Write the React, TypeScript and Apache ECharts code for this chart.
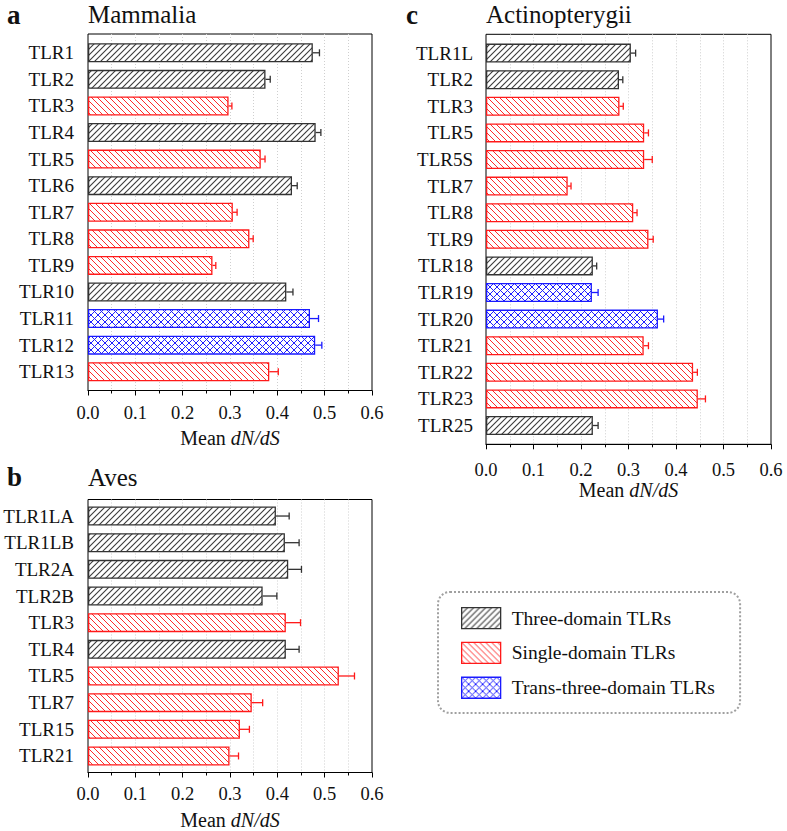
import React, { useEffect, useRef } from 'react';
import * as echarts from 'echarts';

const FONT = 'Liberation Serif';

// Panel a – Mammalia
const catsA = ['TLR1', 'TLR2', 'TLR3', 'TLR4', 'TLR5', 'TLR6', 'TLR7', 'TLR8', 'TLR9', 'TLR10', 'TLR11', 'TLR12', 'TLR13'];
const valsA = [0.475, 0.375, 0.297, 0.481, 0.365, 0.431, 0.306, 0.341, 0.263, 0.419, 0.469, 0.48, 0.383];
const errsA = [0.014, 0.01, 0.007, 0.011, 0.009, 0.011, 0.009, 0.008, 0.007, 0.014, 0.018, 0.014, 0.019];
const typesA = ['T', 'T', 'S', 'T', 'S', 'T', 'S', 'S', 'S', 'T', 'X', 'X', 'S'];

// Panel b – Aves
const catsB = ['TLR1LA', 'TLR1LB', 'TLR2A', 'TLR2B', 'TLR3', 'TLR4', 'TLR5', 'TLR7', 'TLR15', 'TLR21'];
const valsB = [0.397, 0.416, 0.423, 0.369, 0.418, 0.418, 0.53, 0.346, 0.321, 0.299];
const errsB = [0.028, 0.03, 0.028, 0.03, 0.031, 0.028, 0.033, 0.023, 0.02, 0.019];
const typesB = ['T', 'T', 'T', 'T', 'S', 'T', 'S', 'S', 'S', 'S'];

// Panel c – Actinopterygii
const catsC = ['TLR1L', 'TLR2', 'TLR3', 'TLR5', 'TLR5S', 'TLR7', 'TLR8', 'TLR9', 'TLR18', 'TLR19', 'TLR20', 'TLR21', 'TLR22', 'TLR23', 'TLR25'];
const valsC = [0.305, 0.28, 0.281, 0.333, 0.333, 0.172, 0.31, 0.342, 0.225, 0.223, 0.362, 0.332, 0.436, 0.446, 0.225];
const errsC = [0.01, 0.008, 0.008, 0.009, 0.017, 0.007, 0.008, 0.01, 0.008, 0.013, 0.012, 0.01, 0.009, 0.016, 0.011];
const typesC = ['T', 'T', 'S', 'S', 'S', 'S', 'S', 'S', 'T', 'X', 'X', 'S', 'S', 'S', 'T'];

const typeCodes = ['T', 'S', 'X'];
const typeNames = ['Three-domain TLRs', 'Single-domain TLRs', 'Trans-three-domain TLRs'];
const panelTitles = ['Mammalia', 'Aves', 'Actinopterygii'];
const panelLetters = ['a', 'b', 'c'];
const axisTitle = '{n|Mean }{i|dN/dS}';

const strokeColors = ['#333333', '#ff1a1a', '#1a1aff'];

function makePattern(kind: string, color: string, size: number, lw: number) {
  const c = document.createElement('canvas');
  c.width = size;
  c.height = size;
  const ctx = c.getContext('2d')!;
  ctx.fillStyle = '#ffffff';
  ctx.fillRect(0, 0, size, size);
  ctx.strokeStyle = color;
  ctx.lineWidth = lw;
  const seg = (x1: number, y1: number, x2: number, y2: number) => {
    ctx.beginPath();
    ctx.moveTo(x1, y1);
    ctx.lineTo(x2, y2);
    ctx.stroke();
  };
  if (kind === 'fwd' || kind === 'cross') {
    for (const k of [0, 1, 2]) seg(-2, k * size + 2, k * size + 2, -2);
  }
  if (kind === 'back' || kind === 'cross') {
    for (const k of [-1, 0, 1]) seg(k * size - 2, -2, k * size + size + 2, size + 2);
  }
  return { image: c, repeat: 'repeat', imageWidth: size, imageHeight: size } as any;
}

export default function App() {
  const ref = useRef<HTMLDivElement>(null);
  useEffect(() => {
    document.body.style.margin = '0';
    const chart = echarts.init(ref.current!, null, { renderer: 'svg' });
    const patterns = [
      makePattern('fwd', '#3a3a3a', 6, 1.1),
      makePattern('back', '#ff2a2a', 6, 1.0),
      makePattern('cross', '#2020ff', 7, 1.0),
    ];

    const panels = [
      { cats: catsA, vals: valsA, errs: errsA, types: typesA, frame: { left: 88, top: 34, width: 284, height: 356.5 }, inset: 5.5, labelMargin: 13, nameGap: 37, catMargin: 14 },
      { cats: catsB, vals: valsB, errs: errsB, types: typesB, frame: { left: 88, top: 499.5, width: 284, height: 273 }, inset: 3.2, labelMargin: 12, nameGap: 37, catMargin: 14 },
      { cats: catsC, vals: valsC, errs: errsC, types: typesC, frame: { left: 486, top: 34.3, width: 285, height: 410 }, inset: 5.5, labelMargin: 16, nameGap: 33.5, catMargin: 13 },
    ];

    const grid: any[] = [];
    const xAxis: any[] = [];
    const yAxis: any[] = [];
    const series: any[] = [];
    const dotted = { color: '#cfcfcf', width: 1, type: [1, 2] };
    const txt = (size: number, extra: any = {}) => ({ fontFamily: FONT, fontSize: size, color: '#111', fontWeight: 'normal', ...extra });

    panels.forEach((p, i) => {
      const fi = 2 * i;
      const bi = 2 * i + 1;
      grid.push({ left: p.frame.left, top: p.frame.top, width: p.frame.width, height: p.frame.height, show: true, borderColor: '#000', borderWidth: 1, backgroundColor: 'transparent', containLabel: false, outerBoundsMode: 'none' });
      grid.push({ left: p.frame.left, top: p.frame.top + p.inset, width: p.frame.width, height: p.frame.height - 2 * p.inset, containLabel: false, outerBoundsMode: 'none' });
      xAxis.push({
        gridIndex: fi, type: 'value', min: 0, max: 0.6, interval: 0.1,
        axisLine: { show: true, onZero: false, lineStyle: { color: '#000', width: 1 } },
        axisTick: { show: true, inside: false, length: 5, lineStyle: { color: '#000', width: 1 } },
        minorTick: { show: true, splitNumber: 2, length: 3, lineStyle: { color: '#000', width: 1 } },
        splitLine: { show: true, showMinLine: false, showMaxLine: false, lineStyle: dotted },
        minorSplitLine: { show: true, lineStyle: dotted },
        axisLabel: { margin: p.labelMargin, ...txt(18.5), formatter: (v: number) => v.toFixed(1) },
        name: axisTitle, nameLocation: 'middle', nameGap: p.nameGap,
        nameTextStyle: {
          ...txt(20),
          rich: { n: txt(20), i: txt(20, { fontStyle: 'italic' }) },
        },
      });
      xAxis.push({ gridIndex: bi, type: 'value', min: 0, max: 0.6, show: false });
      yAxis.push({ gridIndex: fi, type: 'value', min: 0, max: 1, show: false });
      yAxis.push({
        gridIndex: bi, type: 'category', data: p.cats, inverse: true,
        axisLine: { show: false }, axisTick: { show: false }, splitLine: { show: false },
        axisLabel: { margin: p.catMargin, ...txt(19) },
      });
      typeCodes.forEach((code, t) => {
        series.push({
          type: 'bar', name: typeNames[t], xAxisIndex: bi, yAxisIndex: bi,
          barWidth: 19, barGap: '-100%',
          data: p.vals.map((v, j) => (p.types[j] === code ? v : '-')),
          itemStyle: { color: patterns[t], borderColor: strokeColors[t], borderWidth: 1.3 },
          emphasis: { disabled: true },
          z: 2,
        });
      });
      series.push({
        type: 'custom', xAxisIndex: bi, yAxisIndex: bi, silent: true, z: 5,
        encode: { x: 0, y: 1 },
        data: p.vals.map((v, j) => [v, j, p.errs[j], typeCodes.indexOf(p.types[j])]),
        renderItem: (params: any, api: any) => {
          const v = api.value(0);
          const j = api.value(1);
          const e = api.value(2);
          const t = api.value(3);
          const p0 = api.coord([v, j]);
          const p1 = api.coord([v + e, j]);
          const style = { stroke: strokeColors[t], lineWidth: 1.3 };
          return {
            type: 'group',
            children: [
              { type: 'line', shape: { x1: p0[0], y1: p0[1], x2: p1[0], y2: p1[1] }, style },
              { type: 'line', shape: { x1: p1[0], y1: p1[1] - 3.5, x2: p1[0], y2: p1[1] + 3.5 }, style },
            ],
          };
        },
      });
    });

    const titleText = (text: string, x: number, y: number, size: number, bold: boolean) => ({
      type: 'text', x, y, silent: true,
      style: { text, fontFamily: FONT, fontSize: size, fontWeight: bold ? 'bold' : 'normal', fill: '#111', verticalAlign: 'middle', align: 'left' },
    });

    chart.setOption({
      animation: false,
      backgroundColor: '#fff',
      textStyle: { fontFamily: FONT, color: '#111' },
      grid, xAxis, yAxis, series,
      legend: {
        show: true, orient: 'vertical', left: 438, top: 592,
        padding: [15, 25, 14, 23], itemWidth: 39, itemHeight: 21, itemGap: 12.5,
        icon: 'rect', selectedMode: false,
        borderColor: '#a0a0a0', borderWidth: 2, borderRadius: 12, borderType: [2, 2],
        textStyle: { ...txt(19.5), padding: [0, 0, 0, 6] },
        data: typeNames.map((n, t) => ({ name: n, itemStyle: { color: patterns[t], borderColor: strokeColors[t], borderWidth: 1.3 } })),
      },
      graphic: [
        titleText(panelLetters[0], 7, 15, 27, true),
        titleText(panelTitles[0], 88, 14, 25, false),
        titleText(panelLetters[1], 7, 477, 27, true),
        titleText(panelTitles[1], 88, 477, 25, false),
        titleText(panelLetters[2], 406, 15, 27, true),
        titleText(panelTitles[2], 486, 14, 25, false),
      ],
    });
    return () => chart.dispose();
  }, []);
  return <div ref={ref} style={{ width: 787, height: 831 }} />;
}
